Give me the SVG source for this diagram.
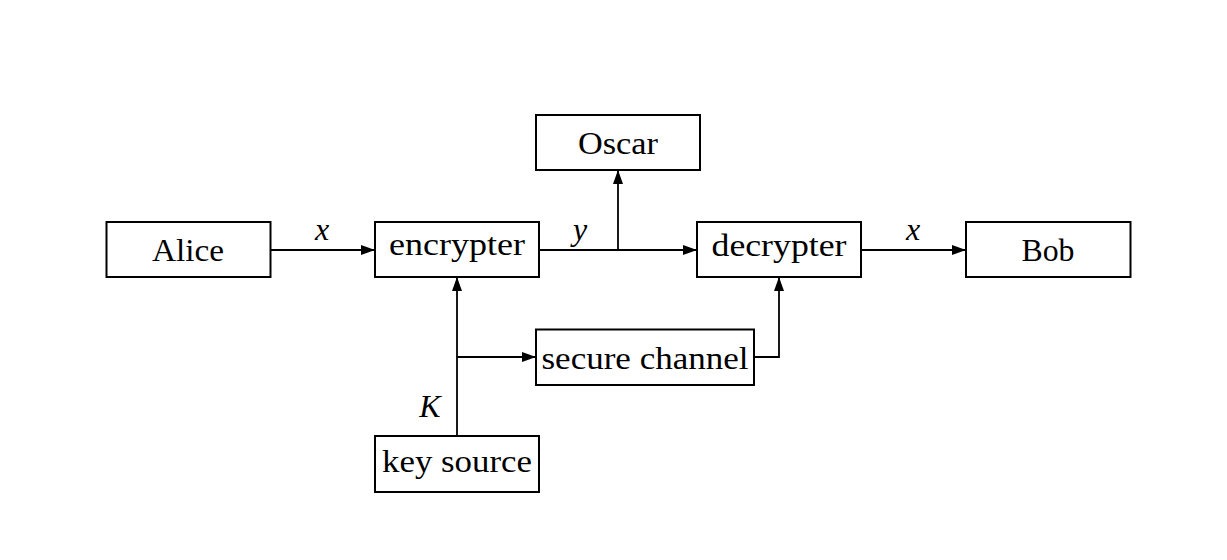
<svg xmlns="http://www.w3.org/2000/svg" width="1227" height="560" viewBox="0 0 1227 560">
<style>
.box{fill:#fff;stroke:#000;stroke-width:2}
.lbl{font-family:"Liberation Serif","DejaVu Serif",serif;font-size:32px;fill:#000;text-anchor:middle}
.it{font-family:"Liberation Serif","DejaVu Serif",serif;font-size:32px;font-style:italic;fill:#000;text-anchor:middle}
.con{fill:none;stroke:#000;stroke-width:1.8}
</style>
<defs>
<marker id="ah" viewBox="0 0 14 10" refX="14" refY="5" markerWidth="14" markerHeight="10" markerUnits="userSpaceOnUse" orient="auto">
<path d="M0,0 L14,5 L0,10 Z" fill="#000"/>
</marker>
</defs>
<rect width="1227" height="560" fill="#fff"/>
<g id="connectors">
<path class="con" d="M270,250 H375" marker-end="url(#ah)"/>
<path class="con" d="M539,250 H697" marker-end="url(#ah)"/>
<path class="con" d="M618,250 V170" marker-end="url(#ah)"/>
<path class="con" d="M861,250 H966" marker-end="url(#ah)"/>
<path class="con" d="M457,436 V277" marker-end="url(#ah)"/>
<path class="con" d="M457,357 H536" marker-end="url(#ah)"/>
<path class="con" d="M754,357 H779 V277" marker-end="url(#ah)"/>
<text class="it" x="322" y="240">x</text>
<text class="it" x="580" y="240">y</text>
<text class="it" x="913" y="240">x</text>
<text class="it" x="430" y="417">K</text>
</g>
<g id="alice"><rect class="box" x="106.5" y="222" width="164" height="55"/><text class="lbl" x="188" y="261" textLength="72" lengthAdjust="spacingAndGlyphs">Alice</text></g>
<g id="encrypter"><rect class="box" x="375" y="222" width="164" height="55"/><text class="lbl" x="457" y="255" textLength="136" lengthAdjust="spacingAndGlyphs">encrypter</text></g>
<g id="oscar"><rect class="box" x="536" y="115" width="164" height="55"/><text class="lbl" x="618" y="154" textLength="80" lengthAdjust="spacingAndGlyphs">Oscar</text></g>
<g id="decrypter"><rect class="box" x="697" y="222" width="164" height="55"/><text class="lbl" x="779" y="255.5" textLength="135" lengthAdjust="spacingAndGlyphs">decrypter</text></g>
<g id="bob"><rect class="box" x="966" y="222" width="164.5" height="55"/><text class="lbl" x="1048" y="261" textLength="53" lengthAdjust="spacingAndGlyphs">Bob</text></g>
<g id="secure-channel"><rect class="box" x="536" y="329.5" width="218" height="55.5"/><text class="lbl" x="645" y="369" textLength="207" lengthAdjust="spacingAndGlyphs">secure channel</text></g>
<g id="key-source"><rect class="box" x="375" y="436" width="164" height="56"/><text class="lbl" x="457" y="471.5" textLength="150" lengthAdjust="spacingAndGlyphs">key source</text></g>
</svg>
